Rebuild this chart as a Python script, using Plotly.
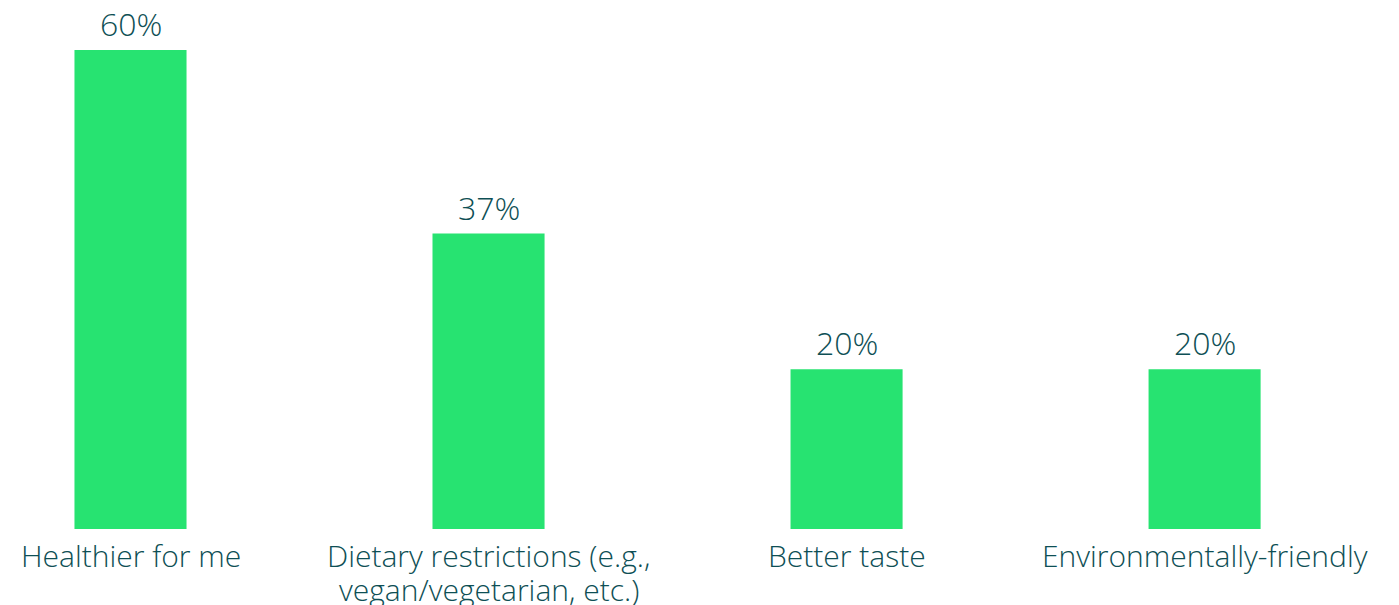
import plotly.graph_objects as go

categories = ["Healthier for me", "Dietary restrictions", "Better taste", "Environmentally-friendly"]
category_lines = [
    ["Healthier for me"],
    ["Dietary restrictions (e.g.,", "vegan/vegetarian, etc.)"],
    ["Better taste"],
    ["Environmentally-friendly"],
]
values = [60, 37, 20, 20]
labels = ["60%", "37%", "20%", "20%"]

BAR = "#27e371"
TXT = "#0e4f55"
FONT = "Open Sans"

fig = go.Figure(go.Bar(x=categories, y=values, marker=dict(color=BAR, line=dict(width=0)), width=0.313))

for c, v, l in zip(categories, values, labels):
    fig.add_annotation(x=c, y=v, text=l, showarrow=False, yanchor="bottom", yshift=3,
                       font=dict(family=FONT, size=32, color=TXT, weight=300))

for c, lines in zip(categories, category_lines):
    for i, line in enumerate(lines):
        fig.add_annotation(x=c, y=0, text=line, showarrow=False, yanchor="top",
                           yshift=-4 - 34 * i,
                           font=dict(family=FONT, size=30, color=TXT, weight=300))

fig.update_layout(
    width=1399, height=605,
    margin=dict(l=0, r=0, t=0, b=76),
    plot_bgcolor="white", paper_bgcolor="white",
    showlegend=False,
    xaxis=dict(range=[-0.3645, 3.543], showgrid=False, zeroline=False, showline=False,
               ticks="", showticklabels=False),
    yaxis=dict(range=[0, 66.26], visible=False),
)
fig.write_html("out.html", config={"displayModeBar": False},
               post_script="document.body.style.margin='0';")
